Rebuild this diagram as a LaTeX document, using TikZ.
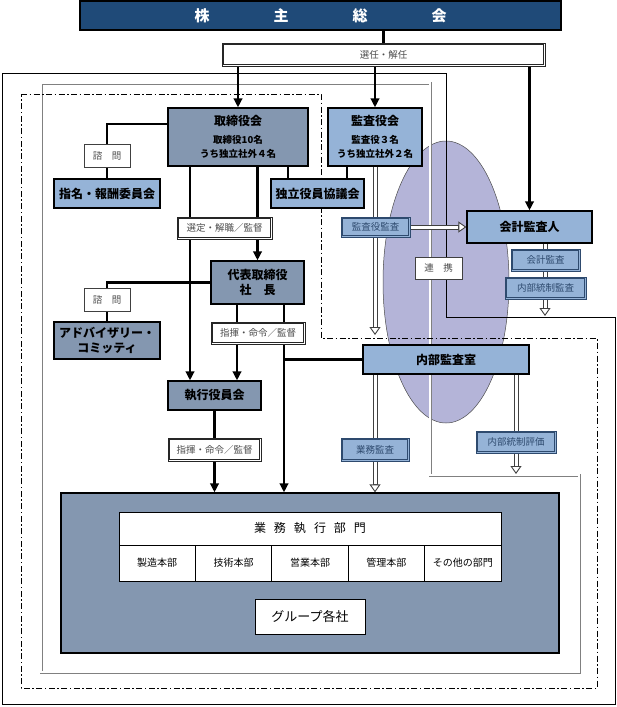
\documentclass[tikz,border=0pt]{standalone}
\usepackage{fontspec}
\newfontfamily\jpfont{Noto Sans CJK JP}
\usetikzlibrary{arrows.meta, backgrounds}

\definecolor{navy}{HTML}{1F4A78}
\definecolor{slate}{HTML}{8497B0}
\definecolor{paleblue}{HTML}{95B3D7}
\definecolor{deepblue}{HTML}{2E4A6E}
\definecolor{lilac}{HTML}{B4B4D8}

\tikzset{
  board/.style = {
    rectangle, draw=black, line width=1.3pt, fill=slate,
    align=center, inner sep=0pt,
    font=\jpfont\bfseries\fontsize{12}{14.5}\selectfont
  },
  audit/.style = {
    board, fill=paleblue
  },
  note/.style = {
    rectangle, draw=black!75, line width=0.7pt, fill=white,
    inner sep=0pt, minimum height=22pt, text=black!70,
    font=\jpfont\fontsize{9.5}{11}\selectfont
  },
  tag/.style = {
    note, draw=black!85,
    path picture={
      \draw [black!85, line width=0.6pt]
        ([shift={(1.7pt,-1.7pt)}]path picture bounding box.north west) rectangle
        ([shift={(-1.7pt,1.7pt)}]path picture bounding box.south east);
    }
  },
  audittag/.style = {
    note, draw=deepblue, fill=paleblue, text=deepblue,
    path picture={
      \draw [deepblue, line width=0.6pt]
        ([shift={(1.7pt,-1.7pt)}]path picture bounding box.north west) rectangle
        ([shift={(-1.7pt,1.7pt)}]path picture bounding box.south east);
    }
  },
  dept/.style = {
    rectangle, draw=black, line width=0.9pt, fill=white,
    inner sep=0pt, font=\jpfont\fontsize{10}{12}\selectfont
  },
  link/.style = { draw=black, line width=2.2pt },
  flow/.style = { link, -{Triangle[length=9pt, width=8.5pt]} },
  hollow/.style = {
    draw=black!75, line width=5pt,
    -{Triangle[length=8pt, width=11pt, line width=0.9pt, fill=white]},
    postaction = {draw=white, line width=3pt, -, shorten >=8pt}
  },
  frame/.style = { draw=black, line width=1pt },
  grayframe/.style = {
    draw=black!50, line width=3pt,
    postaction = {draw=white, line width=1.4pt}
  },
  chainframe/.style = {
    draw=black, line width=1pt, dash pattern=on 6pt off 2.5pt on 1.5pt off 2.5pt
  }
}

\begin{document}
\begin{tikzpicture}[x=1pt, y=-1pt]

    \useasboundingbox (0,0) rectangle (617,707);

    % ------------------------------------------------------------- Top level
    \node [board, fill=navy, text=white, minimum width=481pt, minimum height=29pt,
           font=\jpfont\bfseries\fontsize{15}{17}\selectfont] (soukai) at (320.5,15.5)
          {株\hspace{64pt}主\hspace{64pt}総\hspace{64pt}会};
    \node [tag, minimum width=323pt, minimum height=23pt] (senin) at (383.5,54.5) {選任・解任};

    % ------------------------------------------------------------ Board side
    \node [board, minimum width=140pt, minimum height=58pt] (torishimari) at (238,137)
          {取締役会\\[3pt]\fontsize{9.5}{11.5}\selectfont 取締役10名\\\fontsize{9.5}{11.5}\selectfont うち独立社外４名};
    \node [note, minimum width=46pt, minimum height=23pt] (shimon1) at (107,155.5) {諮\hspace{1em}問};
    \node [audit, minimum width=106pt, minimum height=29pt] (shimei) at (107,193.5) {指名・報酬委員会};
    \node [audit, minimum width=93pt, minimum height=29pt] (dokuritsu) at (317.5,193.5) {独立役員協議会};
    \node [tag, minimum width=95pt] (sentei) at (224.5,228) {選定・解職／監督};
    \node [board, minimum width=93pt, minimum height=43pt] (daihyo) at (257.5,282.5)
          {代表取締役\\社\hspace{1em}長};
    \node [note, minimum width=46pt, minimum height=23pt] (shimon2) at (107,299.5) {諮\hspace{1em}問};
    \node [board, minimum width=106pt, minimum height=37pt] (advisory) at (107,340.5)
          {アドバイザリー・\\コミッティ};
    \node [tag, minimum width=94pt] (shiki1) at (258,333) {指揮・命令／監督};
    \node [board, minimum width=93pt, minimum height=29pt] (shikko) at (214.5,395.5) {執行役員会};
    \node [tag, minimum width=93pt, minimum height=23pt] (shiki2) at (214.5,449.5) {指揮・命令／監督};

    % ------------------------------------------------------------ Audit side
    \node [audit, minimum width=94pt, minimum height=58pt] (kansayaku) at (375,137)
          {監査役会\\[3pt]\fontsize{9.5}{11.5}\selectfont 監査役３名\\\fontsize{9.5}{11.5}\selectfont うち独立社外２名};
    \node [audittag, minimum width=69pt, minimum height=20pt] (yakukansa) at (375.5,227) {監査役監査};
    \node [audit, minimum width=125pt, minimum height=32pt] (kaikei) at (529.5,227) {会計監査人};
    \node [audittag, minimum width=69pt] (kaikeikansa) at (545.5,260) {会計監査};
    \node [audittag, minimum width=81pt] (toseikansa) at (545.5,288) {内部統制監査};
    \node [note, minimum width=47pt] (renkei) at (438.5,268) {連\hspace{1em}携};
    \node [audit, minimum width=166pt, minimum height=29pt] (naibu) at (446,359.5) {内部監査室};
    \node [audittag, minimum width=68pt, minimum height=23pt] (gyomukansa) at (375,449.5) {業務監査};
    \node [audittag, minimum width=80pt] (toseihyoka) at (516,442) {内部統制評価};

    % ------------------------------------------------------ Executive body
    \node [board, minimum width=498pt, minimum height=160pt] (gyomu) at (310,573) {};
    \node [dept, minimum width=382pt, minimum height=33pt,
           font=\jpfont\fontsize{12}{14}\selectfont] (bumon) at (310,528.5)
          {業\hspace{8pt}務\hspace{8pt}執\hspace{8pt}行\hspace{8pt}部\hspace{8pt}門};
    \node [dept, minimum width=76.4pt, minimum height=36pt] (seizo)   at (157.2,563) {製造本部};
    \node [dept, minimum width=76.4pt, minimum height=36pt] (gijutsu) at (233.6,563) {技術本部};
    \node [dept, minimum width=76.4pt, minimum height=36pt] (eigyo)   at (310,563)   {営業本部};
    \node [dept, minimum width=76.4pt, minimum height=36pt] (kanri)   at (386.4,563) {管理本部};
    \node [dept, minimum width=76.4pt, minimum height=36pt] (sonota)  at (462.8,563) {その他の部門};
    \node [dept, minimum width=110pt, minimum height=35pt,
           font=\jpfont\fontsize{13}{15}\selectfont] (group) at (310,616.5) {グループ各社};

    % ----------------------------------------------------- Helper points
    \coordinate (boardleft)  at ([xshift=-48pt]torishimari.south);
    \coordinate (boardright) at ([xshift=50pt]torishimari.south);
    \coordinate (auditleft)  at ([xshift=-28pt]kansayaku.south);
    \coordinate (presleft)   at ([xshift=-20.5pt]daihyo.south);
    \coordinate (presright)  at ([xshift=26.5pt]daihyo.south);
    \coordinate (yakuend)    at (375,335);
    \coordinate (kansaend)   at (545,316);
    \coordinate (hyokaend)   at (516,474);

    % ----------------------------------------- Frames and connectors (behind)
    \begin{scope}[on background layer]

      % -------- liaison area
      \draw [fill=lilac, draw=black!70, line width=0.5pt]
        (446,282) ellipse [x radius=63pt, y radius=141pt];

      % -------- frames
      \draw [frame] (2,73) -- (446,73) -- (446,317) -- (615,317) -- (615,704) -- (2,704) -- cycle;
      \draw [grayframe] (41,83) -- (430,83) -- (430,475) -- (579,475) -- (579,672) -- (41,672) -- cycle;
      \draw [chainframe] (21,94) -- (321,94) -- (321,338) -- (597,338) -- (597,688) -- (21,688) -- cycle;

      % -------- shareholders
      \draw [link] (soukai.south -| senin.north) -- (senin.north);
      \draw [flow] (senin.south -| torishimari.north) -- (torishimari.north);
      \draw [flow] (senin.south -| kansayaku.north) -- (kansayaku.north);
      \draw [flow] (senin.south -| kaikei.north) -- (kaikei.north);

      % -------- board
      \draw [link] ([yshift=13pt]torishimari.west) -| (shimon1.north);
      \draw [link] (shimon1.south) -- (shimei.north);
      \draw [flow] (boardleft) -- (boardleft |- shikko.north);
      \draw [flow] (torishimari.south -| daihyo.north) -- (daihyo.north);
      \draw [link] (boardright) -- (boardright |- dokuritsu.north);
      \draw [link] (auditleft) -- (auditleft |- dokuritsu.north);

      % -------- president
      \draw [link] (daihyo.west) -| (shimon2.north);
      \draw [link] (shimon2.south) -- (advisory.north);
      \draw [flow] (presleft) -- (presleft |- shikko.north);
      \draw [flow] (presright) -- (presright |- gyomu.north);
      \draw [link] (naibu.west) -- (naibu.west -| presright);
      \draw [flow] (shikko.south) -- (shikko.south |- gyomu.north);

      % -------- audits
      \draw [hollow] (kansayaku.south) -- (yakuend);
      \draw [hollow] (yakukansa.east) -- (kaikei.west);
      \draw [hollow] (kaikei.south -| kansaend) -- (kansaend);
      \draw [hollow] (naibu.south -| gyomukansa.north) -- (gyomukansa.north |- gyomu.north);
      \draw [hollow] (naibu.south -| hyokaend) -- (hyokaend);

    \end{scope}

  \end{tikzpicture}
\end{document}
